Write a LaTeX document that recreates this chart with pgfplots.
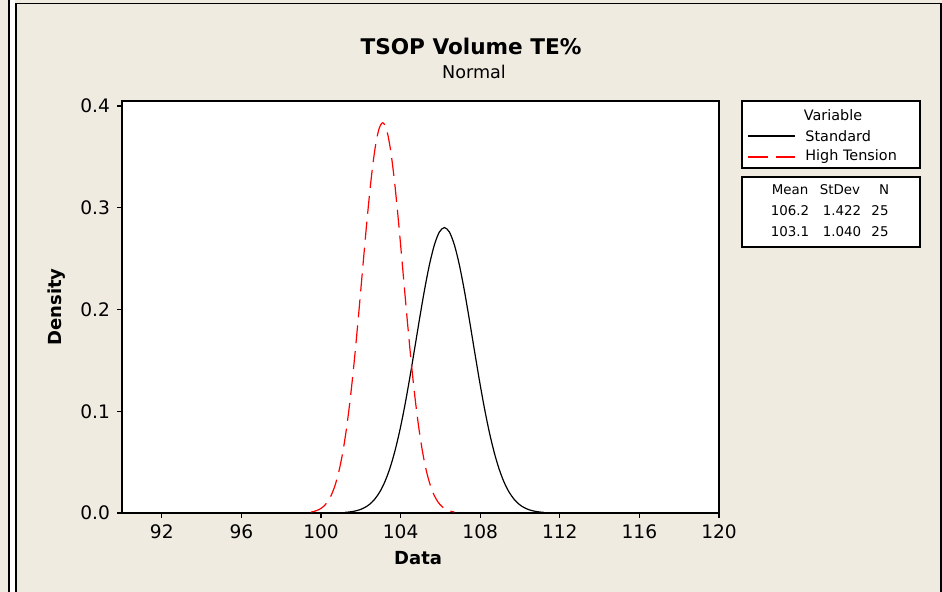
\documentclass[border=0pt]{standalone}
\usepackage{fontspec}
\setmainfont{DejaVu Sans}
\usepackage{pgfplots}
\pgfplotsset{compat=1.18}
\definecolor{panel}{RGB}{239,235,225}

\begin{document}
\begin{tikzpicture}
\useasboundingbox (0,0) rectangle (471pt,296pt);
\fill[panel] (0,0) rectangle (471pt,296pt);
\fill[white] (4.6pt,-1pt) rectangle (7.6pt,297pt);
\draw[line width=0.9pt] (4.3pt,-1pt) -- (4.3pt,297pt);
\draw[line width=0.9pt] (8pt,-1pt) -- (8pt,294.2pt) -- (470.4pt,294.2pt) -- (470.4pt,-1pt);

\node[font=\fontsize{10.8}{12}\selectfont\bfseries] at (235.5pt,273pt) {TSOP Volume TE\%};
\node[font=\fontsize{8.8}{10}\selectfont] at (237pt,260pt) {Normal};

\begin{axis}[
    at={(61pt,39.5pt)}, anchor=south west,
    width=298.5pt, height=206pt, scale only axis,
    xmin=90, xmax=120, ymin=0, ymax=0.405,
    xtick={92,96,100,104,108,112,116,120},
    ytick={0,0.1,0.2,0.3,0.4},
    yticklabel style={/pgf/number format/.cd, fixed, fixed zerofill, precision=1},
    /pgf/number format/assume math mode=true,
    tick align=outside, tick pos=left, major tick length=2.5pt,
    axis background/.style={fill=white},
    axis line style={line width=0.6pt},
    tick style={line width=0.6pt, black},
    ticklabel style={font=\fontsize{9.3}{11}\selectfont},
    xlabel={Data}, ylabel={Density},
    label style={font=\fontsize{9}{11}\selectfont\bfseries},
    xlabel style={at={(axis description cs:0.496,-0.109)}, anchor=center},
    ylabel style={at={(axis description cs:-0.109,0.5)}, anchor=center},
]
% Standard: mean 106.2, StDev 1.422
\addplot[black, line width=0.6pt, smooth] coordinates {
(101.2,0.00058)(101.45,0.00106)(101.7,0.00188)(101.95,0.00322)(102.2,0.00537)
(102.45,0.00867)(102.7,0.01357)(102.95,0.02059)(103.2,0.03030)(103.45,0.04324)
(103.7,0.05982)(103.95,0.08024)(104.2,0.10434)(104.45,0.13156)(104.7,0.16084)
(104.95,0.19065)(105.2,0.21909)(105.45,0.24412)(105.7,0.26373)(105.95,0.27625)
(106.2,0.28055)(106.45,0.27625)(106.7,0.26373)(106.95,0.24412)(107.2,0.21909)
(107.45,0.19065)(107.7,0.16084)(107.95,0.13156)(108.2,0.10434)(108.45,0.08024)
(108.7,0.05982)(108.95,0.04324)(109.2,0.03030)(109.45,0.02059)(109.7,0.01357)
(109.95,0.00867)(110.2,0.00537)(110.45,0.00322)(110.7,0.00188)(110.95,0.00106)
(111.2,0.00058)
};
% High Tension: mean 103.1, StDev 1.040
\addplot[red, line width=0.6pt, smooth, dash pattern=on 9pt off 4pt] coordinates {
(99.5,0.00096)(99.7,0.00183)(99.9,0.00337)(100.1,0.00599)(100.3,0.01023)
(100.5,0.01686)(100.7,0.02676)(100.9,0.04093)(101.1,0.06037)(101.3,0.08578)
(101.5,0.11747)(101.7,0.15501)(101.9,0.19714)(102.1,0.24160)(102.3,0.28535)
(102.5,0.32479)(102.7,0.35625)(102.9,0.37657)(103.1,0.38360)(103.3,0.37657)
(103.5,0.35625)(103.7,0.32479)(103.9,0.28535)(104.1,0.24160)(104.3,0.19714)
(104.5,0.15501)(104.7,0.11747)(104.9,0.08578)(105.1,0.06037)(105.3,0.04093)
(105.5,0.02676)(105.7,0.01686)(105.9,0.01023)(106.1,0.00599)(106.3,0.00337)
(106.5,0.00183)(106.7,0.00096)
};
\end{axis}

% legend
\draw[line width=0.6pt, fill=white] (371pt,212pt) rectangle (460pt,245.5pt);
\begin{scope}[font=\fontsize{7.2}{8}\selectfont]
\node at (416.5pt,238.5pt) {Variable};
\draw[black, line width=0.6pt] (374pt,228pt) -- (397.5pt,228pt);
\node[anchor=west, inner sep=0pt] at (402.5pt,228pt) {Standard};
\draw[red, line width=0.6pt, dash pattern=on 10pt off 4pt] (374pt,217.5pt) -- (397.5pt,217.5pt);
\node[anchor=west, inner sep=0pt] at (402.5pt,217.5pt) {High Tension};
\end{scope}

% summary table
\draw[line width=0.6pt, fill=white] (371pt,172.5pt) rectangle (460pt,207.5pt);
\begin{scope}[font=\fontsize{6.7}{7}\selectfont]
\node at (395pt,201pt) {Mean};
\node at (420pt,201pt) {StDev};
\node at (442pt,201pt) {N};
\node at (395pt,190.5pt) {106.2};
\node at (421pt,190.5pt) {1.422};
\node at (440pt,190.5pt) {25};
\node at (395pt,180pt) {103.1};
\node at (421pt,180pt) {1.040};
\node at (440pt,180pt) {25};
\end{scope}
\end{tikzpicture}
\end{document}
